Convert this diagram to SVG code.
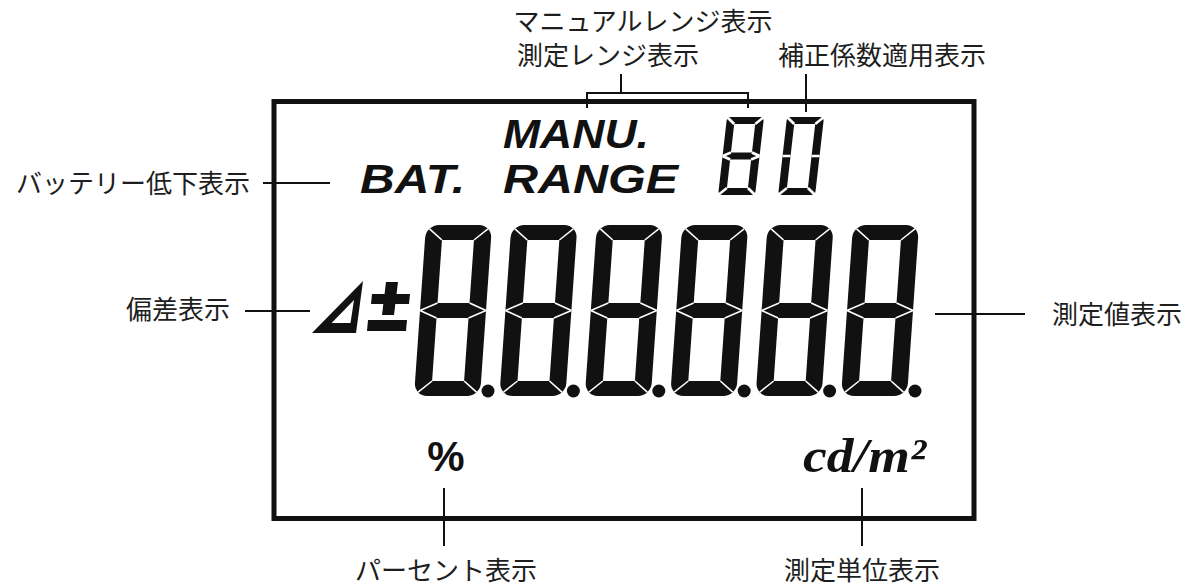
<svg xmlns="http://www.w3.org/2000/svg" xmlns:xlink="http://www.w3.org/1999/xlink" width="1191" height="588" viewBox="0 0 1191 588">
<style>
.lbl{font-family:"Noto Sans CJK JP","Noto Sans",sans-serif;font-size:26px;fill:#1e1e1e}
.ln{stroke:#111;stroke-width:2;fill:none}
.seg{fill:#111;fill-rule:evenodd}
.cut{stroke:#fff;stroke-width:1.6;fill:none}
.cuts{stroke:#fff;stroke-width:2.6;fill:none}
.lcdt{font-family:"Liberation Sans",Arial,sans-serif;font-weight:bold;font-style:italic;font-size:40px;fill:#111}
</style>
<defs>
<g id="bigd">
<path class="seg" d="M13,0 H53 A13,13 0 0 1 66,13 V158 A13,13 0 0 1 53,171 H13 A13,13 0 0 1 0,158 V13 A13,13 0 0 1 13,0 Z M17,15 H49 V78 H17 Z M17,93 H49 V156 H17 Z"/>
<path class="cut" d="M3.8,3.8 L17,15 M62.2,3.8 L49,15 M3.8,167.2 L17,156 M62.2,167.2 L49,156 M0,85.5 L17,78 M0,85.5 L17,93 M66,85.5 L49,78 M66,85.5 L49,93"/>
</g>
<g id="small8">
<path class="seg" d="M4,0 H33 A4,4 0 0 1 37,4 V74 A4,4 0 0 1 33,78 H4 A4,4 0 0 1 0,74 V4 A4,4 0 0 1 4,0 Z M8,7 H29 V35.5 H8 Z M8,42.5 H29 V71 H8 Z"/>
<path class="cuts" d="M0,0 L8,7 M37,0 L29,7 M0,78 L8,71 M37,78 L29,71 M0,39 L8,35.5 M0,39 L8,42.5 M37,39 L29,35.5 M37,39 L29,42.5"/>
</g>
<g id="small0">
<path class="seg" d="M4,0 H33 A4,4 0 0 1 37,4 V74 A4,4 0 0 1 33,78 H4 A4,4 0 0 1 0,74 V4 A4,4 0 0 1 4,0 Z M8,7 H29 V71 H8 Z"/>
<path class="cuts" d="M0,0 L8,7 M37,0 L29,7 M0,78 L8,71 M37,78 L29,71 M0,39 L8,39 M29,39 L37,39"/>
</g>
</defs>

<g id="lcd-frame">
<rect x="274" y="101.5" width="700" height="417" fill="none" stroke="#111" stroke-width="5"/>
</g>

<g id="connectors">
<path class="ln" d="M621,74 V93 M587,108 V93 H748 V108"/>
<path class="ln" d="M806,74 V112"/>
<path class="ln" d="M263,183 H330"/>
<path class="ln" d="M245,311 H310"/>
<path class="ln" d="M935,314 H1025"/>
<path class="ln" d="M444,488 V546"/>
<path class="ln" d="M862,488 V546"/>
</g>

<g id="bat">
<text class="lcdt" x="360" y="193" textLength="105" lengthAdjust="spacingAndGlyphs">BAT.</text>
</g>
<g id="manu">
<text class="lcdt" x="503" y="148" textLength="146" lengthAdjust="spacingAndGlyphs">MANU.</text>
</g>
<g id="range">
<text class="lcdt" x="503" y="193" textLength="175" lengthAdjust="spacingAndGlyphs">RANGE</text>
</g>
<g id="coef-digits">
<use xlink:href="#small8" href="#small8" transform="translate(727,117) skewX(-6.5)"/>
<use xlink:href="#small0" href="#small0" transform="translate(787,117) skewX(-6.5)"/>
</g>
<g id="deviation">
<path class="seg" d="M363,281 L356,333 L312,333 Z M354,300 L350.5,323 L331.6,323 Z"/>
<polygon fill="#111" points="386,282 398,282 394,315 382,315"/>
<polygon fill="#111" points="372,294 410,294 409,304 371,304"/>
<polygon fill="#111" points="368,320 407,320 406,331 367,331"/>
</g>
<g id="main-digits">
<use xlink:href="#bigd" href="#bigd" transform="translate(426,225) skewX(-4)"/>
<use xlink:href="#bigd" href="#bigd" transform="translate(511.4,225) skewX(-4)"/>
<use xlink:href="#bigd" href="#bigd" transform="translate(596.8,225) skewX(-4)"/>
<use xlink:href="#bigd" href="#bigd" transform="translate(682.2,225) skewX(-4)"/>
<use xlink:href="#bigd" href="#bigd" transform="translate(767.6,225) skewX(-4)"/>
<use xlink:href="#bigd" href="#bigd" transform="translate(853,225) skewX(-4)"/>
<g fill="#111">
<circle cx="488" cy="391" r="6.5"/>
<circle cx="573.4" cy="391" r="6.5"/>
<circle cx="658.8" cy="391" r="6.5"/>
<circle cx="744.2" cy="391" r="6.5"/>
<circle cx="829.6" cy="391" r="6.5"/>
<circle cx="915" cy="391" r="6.5"/>
</g>
</g>
<g id="percent">
<text x="446" y="471" text-anchor="middle" font-family="Liberation Sans, Arial, sans-serif" font-weight="bold" font-size="42" fill="#111">%</text>
</g>
<g id="unit">
<text x="803" y="472" textLength="123" lengthAdjust="spacingAndGlyphs" font-family="Liberation Serif, Times New Roman, serif" font-weight="bold" font-style="italic" font-size="48" fill="#111">cd/m²</text>
</g>

<g id="label-manual-range"><text class="lbl" x="643" y="31" text-anchor="middle">マニュアルレンジ表示</text></g>
<g id="label-range"><text class="lbl" x="608" y="65" text-anchor="middle">測定レンジ表示</text></g>
<g id="label-coef"><text class="lbl" x="778" y="65">補正係数適用表示</text></g>
<g id="label-battery"><text class="lbl" x="250" y="193" text-anchor="end">バッテリー低下表示</text></g>
<g id="label-deviation"><text class="lbl" x="230" y="319" text-anchor="end">偏差表示</text></g>
<g id="label-value"><text class="lbl" x="1052" y="324">測定値表示</text></g>
<g id="label-percent"><text class="lbl" x="446" y="580" text-anchor="middle">パーセント表示</text></g>
<g id="label-unit"><text class="lbl" x="862" y="580" text-anchor="middle">測定単位表示</text></g>
</svg>
